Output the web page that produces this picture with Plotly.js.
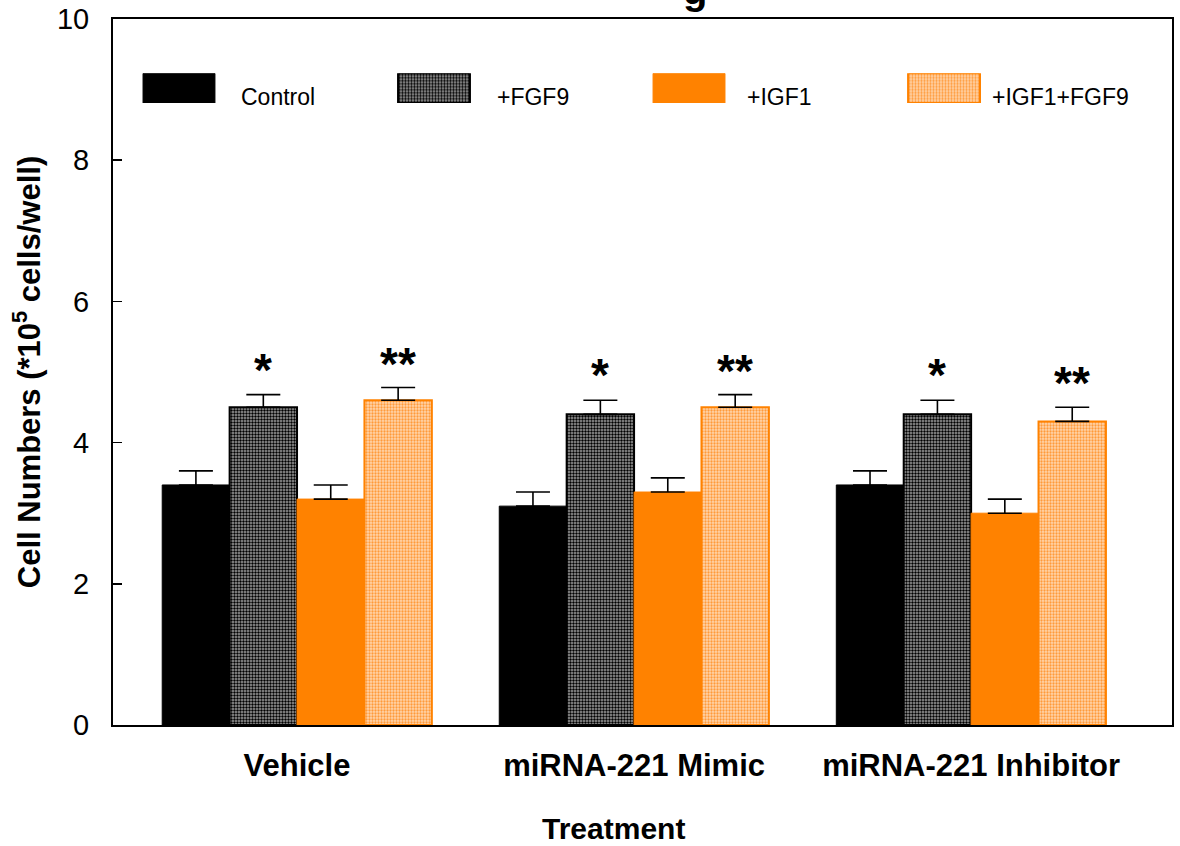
<!DOCTYPE html>
<html>
<head>
<meta charset="utf-8">
<script src="https://cdn.plot.ly/plotly-3.0.1.min.js"></script>
<style>
html,body{margin:0;padding:0;background:#fff;}
#chart{width:1180px;height:846px;}
</style>
</head>
<body>
<div id="chart"></div>
<script>
// ---- data ----
const categories = ["Vehicle", "miRNA-221 Mimic", "miRNA-221 Inhibitor"];
const seriesNames = ["Control", "+FGF9", "+IGF1", "+IGF1+FGF9"];
const controlVals = [3.4, 3.1, 3.4];
const fgf9Vals = [4.5, 4.4, 4.4];
const igf1Vals = [3.2, 3.3, 3.0];
const igf1fgf9Vals = [4.6, 4.5, 4.3];
const controlErr = [0.2, 0.2, 0.2];
const fgf9Err = [0.18, 0.2, 0.2];
const igf1Err = [0.2, 0.2, 0.2];
const igf1fgf9Err = [0.18, 0.18, 0.2];
const fgf9Stars = ["*", "*", "*"];
const igf1fgf9Stars = ["**", "**", "**"];
const yTicks = [0, 2, 4, 6, 8, 10];
const xTitle = "Treatment";
const yTitle = "Cell Numbers (*10<sup>5</sup> cells/well)";

// ---- styles ----
const FONT = "Liberation Sans, Arial, Helvetica, sans-serif";
const ORANGE = "#ff8200";
const styles = [
  {color: "#000000", line: {color: "#000000", width: 1}},
  {color: "#808080", line: {color: "#000000", width: 2},
   pattern: {shape: ".", fgcolor: "#000000", bgcolor: "#a0a0a0", size: 3, solidity: 0.5}},
  {color: ORANGE, line: {color: ORANGE, width: 1}},
  {color: "#ffc48a", line: {color: ORANGE, width: 2},
   pattern: {shape: ".", fgcolor: "#ff9a3a", bgcolor: "#ffd6ad", size: 3, solidity: 0.45}}
];
const legendTextOffset = [0.235, 0.24, 0.22, 0.18];

const allVals = [controlVals, fgf9Vals, igf1Vals, igf1fgf9Vals];
const allErr = [controlErr, fgf9Err, igf1Err, igf1fgf9Err];
const xIdx = categories.map((c, i) => i);
const nSeries = seriesNames.length;
const bargap = 0.2;
const barW = (1 - bargap) / nSeries;
const offsetOf = s => -((1 - bargap) / 2) + barW * (s + 0.5);

const traces = [];
allVals.forEach((vals, s) => {
  traces.push({
    type: "bar",
    name: seriesNames[s],
    x: xIdx,
    y: vals,
    marker: styles[s],
    error_y: {type: "data", symmetric: false, array: allErr[s],
      arrayminus: vals.map(() => 0), color: "#000000", thickness: 1.6, width: 17},
    showlegend: false,
    hoverinfo: "y"
  });
});

// legend swatches on an overlay axis
const legendIdx = seriesNames.map((n, i) => i);
seriesNames.forEach((n, s) => {
  traces.push({
    type: "bar",
    x: [legendIdx[s]],
    y: [1],
    xaxis: "x2",
    yaxis: "y2",
    width: 0.282,
    marker: styles[s],
    showlegend: false,
    hoverinfo: "skip"
  });
});

const annotations = [];
// significance stars
categories.forEach((c, i) => {
  annotations.push({
    x: i + offsetOf(1), y: fgf9Vals[i] + fgf9Err[i], xref: "x", yref: "y",
    text: fgf9Stars[i], showarrow: false, yanchor: "bottom", yshift: -3,
    font: {family: FONT, size: 46, color: "#000", weight: "bold"}
  });
  annotations.push({
    x: i + offsetOf(3), y: igf1fgf9Vals[i] + igf1fgf9Err[i], xref: "x", yref: "y",
    text: igf1fgf9Stars[i], showarrow: false, yanchor: "bottom", yshift: -4,
    font: {family: FONT, size: 46, color: "#000", weight: "bold"}
  });
});
// legend labels
seriesNames.forEach((n, s) => {
  annotations.push({
    x: legendIdx[s] + legendTextOffset[s], y: 0.2, xref: "x2", yref: "y2",
    text: n, showarrow: false, xanchor: "left", yanchor: "middle",
    font: {family: FONT, size: 23, color: "#000"}
  });
});
// x axis title
annotations.push({
  x: 0.473, y: -0.146, xref: "paper", yref: "paper", text: "<b>" + xTitle + "</b>",
  showarrow: false, xanchor: "center", yanchor: "middle", borderpad: 0,
  font: {family: FONT, size: 30, color: "#000"}
});
// clipped title fragment
annotations.push({
  x: 0.55, y: 1, xref: "paper", yref: "paper", text: "<b>g</b>", showarrow: false,
  yanchor: "bottom", yshift: 5, font: {family: FONT, size: 40, color: "#000"}
});

const layout = {
  width: 1180, height: 846,
  margin: {l: 113, r: 8, t: 19, b: 121},
  paper_bgcolor: "#fff", plot_bgcolor: "#fff",
  barmode: "group", bargap: bargap, bargroupgap: 0,
  showlegend: false,
  font: {family: FONT, color: "#000"},
  xaxis: {
    range: [-0.546, 2.596], tickvals: xIdx, ticktext: categories.map(c => "<b>" + c + "</b>"),
    ticks: "", showgrid: false, zeroline: false,
    showline: true, linecolor: "#000", linewidth: 2, mirror: true,
    tickfont: {family: FONT, size: 31, color: "#000"},
    ticklabelstandoff: 12
  },
  yaxis: {
    range: [0, 10], tickvals: yTicks, ticks: "inside", ticklen: 9, tickwidth: 1.5, tickcolor: "#000",
    showgrid: false, zeroline: false,
    showline: true, linecolor: "#000", linewidth: 2, mirror: true,
    tickfont: {family: FONT, size: 29, color: "#000"},
    ticklabelstandoff: 16,
    title: {text: "<b>" + yTitle + "</b>", font: {family: FONT, size: 31, color: "#000"}, standoff: 7}
  },
  xaxis2: {
    overlaying: "x", range: [-0.2588, 3.894], visible: false, fixedrange: true
  },
  yaxis2: {
    anchor: "x2", domain: [0.881, 0.923], range: [0, 1], visible: false, fixedrange: true
  },
  annotations: annotations
};

Plotly.newPlot("chart", traces, layout, {displayModeBar: false, staticPlot: true});
</script>
</body>
</html>
